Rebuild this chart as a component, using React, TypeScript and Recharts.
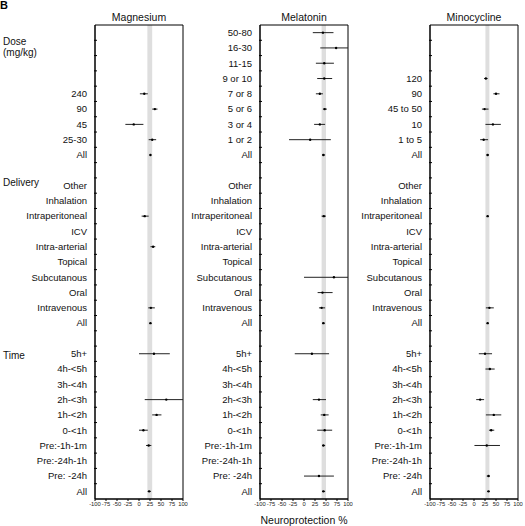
import React from "react";
import {
  ErrorBar,
  ReferenceArea,
  Scatter,
  ScatterChart,
  XAxis,
  YAxis,
} from "recharts";

// row labels
const deliveryLabels = ["Other", "Inhalation", "Intraperitoneal", "ICV", "Intra-arterial", "Topical", "Subcutanous", "Oral", "Intravenous", "All"];
const timeLabels = ["5h+", "4h-<5h", "3h-<4h", "2h-<3h", "1h-<2h", "0-<1h", "Pre:-1h-1m", "Pre:-24h-1h", "Pre: -24h", "All"];
const mgDoseLabels = ["", "", "", "", "240", "90", "45", "25-30", "All"];
const melDoseLabels = ["50-80", "16-30", "11-15", "9 or 10", "7 or 8", "5 or 6", "3 or 4", "1 or 2", "All"];
const minoDoseLabels = ["", "", "", "120", "90", "45 to 50", "10", "1 to 5", "All"];

const xTicks = [-100, -75, -50, -25, 0, 25, 50, 75, 100];

// [estimate, lower, upper] neuroprotection %, null = no studies
// upper bounds past the axis are cut at 100 (they run off the panel)
type Est = [number, number, number] | null;

const mgDose: Est[] = [null, null, null, null, [12, 2, 20], [36, 30, 42], [-12, -31, 10], [30, 22, 39], [26, 24, 28]];
const mgDelivery: Est[] = [null, null, [13, 6, 22], null, [32, 26, 37], null, null, null, [27, 21, 36], [26, 24, 28]];
const mgTime: Est[] = [[34, 0, 70], null, null, [62, 13, 100], [40, 30, 51], [10, 0, 20], [22, 16, 28], null, null, [23, 20, 27]];

const melDose: Est[] = [[43, 20, 67], [73, 37, 100], [46, 27, 68], [46, 30, 64], [36, 27, 43], [47, 43, 52], [36, 23, 48], [14, -34, 61], [44, 41, 48]];
const melDelivery: Est[] = [null, null, [45, 40, 50], null, null, null, [68, 0, 100], [42, 31, 65], [40, 34, 48], [44, 41, 47]];
const melTime: Est[] = [[18, -21, 57], null, null, [34, 20, 50], [46, 38, 56], [47, 30, 64], [44, 41, 48], null, [34, 0, 68], [44, 41, 48]];

const minoDose: Est[] = [null, null, null, [27, 23, 31], [50, 44, 58], [24, 18, 33], [43, 26, 61], [22, 14, 32], [31, 28, 34]];
const minoDelivery: Est[] = [null, null, [31, 29, 33], null, null, null, null, null, [35, 27, 45], [31, 29, 33]];
const minoTime: Est[] = [[25, 11, 41], [36, 26, 47], null, [14, 5, 23], [45, 27, 62], [39, 34, 46], [29, 1, 59], null, [33, 29, 36], [33, 30, 35]];

// overall estimate band per drug
const mgBand = [19, 30];
const melBand = [40, 50];
const minoBand = [26, 35];

const FONT = "'Liberation Sans', Arial, Helvetica, sans-serif";
const TICK_GAP = 8;

function RowTick(props: any) {
  const { x, y, payload, labels } = props;
  const v = payload.value;
  if (Number.isInteger(v)) {
    return (
      <text x={x} y={y} dy="0.35em" textAnchor="end" fontSize={9.5} fill="#111" fontFamily={FONT}>
        {labels[v]}
      </text>
    );
  }
  return <line x1={x + TICK_GAP - 1} x2={x + TICK_GAP + 2} y1={y} y2={y} stroke="#000" />;
}

function Panel({ doseLabels, dose, delivery, time, band, left, axisWidth }: any) {
  const labels = [...doseLabels, "", ...deliveryLabels, "", ...timeLabels];
  const values: Est[] = [...dose, null, ...delivery, null, ...time];
  const points = values
    .map((v, i) => (v ? { x: v[0], y: i, err: [v[0] - v[1], v[2] - v[0]] } : null))
    .filter(Boolean);
  const n = labels.length;
  const ticks: number[] = [];
  for (let i = 0; i < n; i++) {
    ticks.push(i);
    if (i < n - 1) ticks.push(i + 0.5);
  }
  const width = axisWidth + 88 + 5;
  return (
    <div style={{ position: "absolute", left, top: 0 }}>
      <ScatterChart width={width} height={526} margin={{ top: 25, right: 5, bottom: 13, left: 0 }}>
        <XAxis
          type="number"
          dataKey="x"
          domain={[-100, 100]}
          ticks={xTicks}
          allowDataOverflow
          interval={0}
          height={14}
          tickSize={2}
          tickMargin={1}
          stroke="#000"
          tick={{ fontSize: 5.8, fill: "#222", fontFamily: FONT }}
        />
        <YAxis
          type="number"
          dataKey="y"
          domain={[-0.5, n - 0.5]}
          reversed
          ticks={ticks}
          interval={0}
          width={axisWidth}
          tickSize={0}
          tickMargin={TICK_GAP}
          tickLine={false}
          stroke="#000"
          tick={<RowTick labels={labels} />}
        />
        <ReferenceArea x1={band[0]} x2={band[1]} y1={-0.5} y2={n - 0.5} fill="#dedede" fillOpacity={1} stroke="none" />
        <ReferenceArea x1={-100} x2={100} y1={-0.5} y2={n - 0.5} fill="none" stroke="#000" strokeWidth={1} />
        <Scatter
          data={points}
          isAnimationActive={false}
          shape={(p: any) => <circle cx={p.cx} cy={p.cy} r={1.2} fill="#000" />}
        >
          <ErrorBar dataKey="err" direction="x" width={0} stroke="#222" strokeWidth={1} isAnimationActive={false} />
        </Scatter>
      </ScatterChart>
    </div>
  );
}

export default function App() {
  return (
    <div style={{ position: "absolute", left: 0, top: 0, width: 525, height: 526, fontFamily: FONT, background: "#fff" }}>
      <Panel doseLabels={mgDoseLabels} dose={mgDose} delivery={mgDelivery} time={mgTime} band={mgBand} left={0} axisWidth={95} />
      <Panel doseLabels={melDoseLabels} dose={melDose} delivery={melDelivery} time={melTime} band={melBand} left={180} axisWidth={80} />
      <Panel doseLabels={minoDoseLabels} dose={minoDose} delivery={minoDelivery} time={minoTime} band={minoBand} left={350} axisWidth={80} />
      <svg width={525} height={526} style={{ position: "absolute", left: 0, top: 0, pointerEvents: "none" }} fontFamily={FONT}>
        <text x={0} y={9} fontSize={11} fontWeight="bold" fill="#000">B</text>
        <text x={139} y={20.5} fontSize={10.5} textAnchor="middle" fill="#111">Magnesium</text>
        <text x={304} y={20.5} fontSize={10.5} textAnchor="middle" fill="#111">Melatonin</text>
        <text x={474} y={20.5} fontSize={10.5} textAnchor="middle" fill="#111">Minocycline</text>
        <text x={3} y={44.5} fontSize={10} fill="#111">Dose</text>
        <text x={3} y={56} fontSize={10} fill="#111">(mg/kg)</text>
        <text x={3} y={186} fontSize={10} fill="#111">Delivery</text>
        <text x={3} y={358.5} fontSize={10} fill="#111">Time</text>
        <text x={304} y={524} fontSize={10.5} textAnchor="middle" fill="#111">Neuroprotection %</text>
      </svg>
    </div>
  );
}
